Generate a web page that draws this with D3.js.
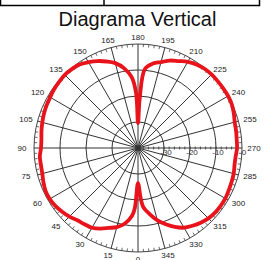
<!DOCTYPE html>
<html>
<head>
<meta charset="utf-8">
<script src="https://cdn.jsdelivr.net/npm/d3@7"></script>
<style>
  body { margin: 0; background: #fff; }
  svg { display: block; }
</style>
</head>
<body>
<div id="chart"></div>
<script>
// pattern data: angle in degrees (0 at bottom, clockwise) and gain in dB
const patternAngles = [0, 3, 5, 10, 15, 20, 25, 30, 35, 40, 45, 50, 55, 60, 65, 70, 75, 80, 85, 90,
  95, 100, 105, 110, 115, 120, 125, 130, 135, 140, 145, 150, 155, 160, 165, 170, 175, 178, 180,
  182, 185, 190, 195, 200, 205, 210, 215, 220, 225, 230, 235, 240, 245, 250, 255, 260, 265, 270,
  275, 280, 285, 290, 295, 300, 305, 310, 315, 320, 325, 330, 335, 340, 345, 350, 355, 357];
const patternGains = [-26.5, -16.9, -13.8, -10.4, -8.5, -7.3, -5.8, -4.6, -4.2, -3.7, -2.7, -1.9, -1.2, -0.8, -0.8, -1.3, -1.9, -2.1, -2.1, -2.7,
  -2.7, -2.3, -1.9, -1.5, -1.2, -1.0, -0.6, -0.4, -0.2, -0.4, -0.8, -1.9, -3.1, -4.6, -6.2, -8.8, -12.7, -18.8, -30.4,
  -20.8, -9.5, -7.0, -5.8, -4.2, -3.1, -1.7, -0.8, -0.2, 0, 0, 0, 0, -0.2, -0.8, -1.5, -1.7, -1.9, -1.9,
  -2.3, -2.3, -1.9, -1.7, -1.5, -1.2, -1.2, -1.3, -1.7, -2.5, -3.5, -4.6, -6.5, -8.8, -11.2, -14.2, -17.3, -20.8];

const ringValues = [-30, -20, -10, 0];
const ringLabels = ["-30", "-20", "-10", "0"];
const spokeAngles = d3.range(0, 360, 15);

const width = 270, height = 260;
const cx = 138, cy = 148, R = 104;

const svg = d3.select("#chart").append("svg")
  .attr("width", width)
  .attr("height", height);

// top table borders
svg.append("path")
  .attr("d", "M0.5,0 V5.5 H259.5 V0 M104,0 V5.5")
  .attr("fill", "none")
  .attr("stroke", "#000")
  .attr("stroke-width", 1.5);

// title
svg.append("text")
  .attr("x", 137.5)
  .attr("y", 26)
  .attr("text-anchor", "middle")
  .attr("font-family", "Liberation Sans, Arial, sans-serif")
  .attr("font-size", 20)
  .attr("fill", "#111")
  .text("Diagrama Vertical");

const r = d3.scaleLinear().domain([-40, 0]).range([0, R]);

const g = svg.append("g")
  .attr("transform", "translate(" + cx + "," + cy + ")");

// screen position for a pattern angle (0 = down, clockwise)
const px = (a, rad) => -rad * Math.sin(a * Math.PI / 180);
const py = (a, rad) => rad * Math.cos(a * Math.PI / 180);

// spokes
g.selectAll(".spoke")
  .data(spokeAngles)
  .enter()
  .append("line")
  .attr("x1", 0).attr("y1", 0)
  .attr("x2", d => px(d, R))
  .attr("y2", d => py(d, R))
  .attr("stroke", "#333")
  .attr("stroke-width", 1);

// rings
g.selectAll(".ring")
  .data(ringValues)
  .enter()
  .append("circle")
  .attr("r", d => r(d))
  .attr("fill", "none")
  .attr("stroke", d => d === 0 ? "#444" : "#333")
  .attr("stroke-width", 1);

// minor ticks on the outer circle
g.selectAll(".tick")
  .data(d3.range(0, 360, 3).filter(a => a % 15 !== 0))
  .enter()
  .append("line")
  .attr("x1", d => px(d, R))
  .attr("y1", d => py(d, R))
  .attr("x2", d => px(d, R - 3))
  .attr("y2", d => py(d, R - 3))
  .attr("stroke", "#444")
  .attr("stroke-width", 0.8);

// minor ticks on the dB axis (right)
g.selectAll(".dbtick")
  .data(d3.range(-38, 0, 2))
  .enter()
  .append("line")
  .attr("x1", d => r(d)).attr("x2", d => r(d))
  .attr("y1", -1.5).attr("y2", 1.5)
  .attr("stroke", "#333")
  .attr("stroke-width", 0.8);

// angle labels
g.selectAll(".alabel")
  .data(spokeAngles)
  .enter()
  .append("text")
  .attr("x", d => px(d, R + 12))
  .attr("y", d => py(d, R + 7))
  .attr("text-anchor", "middle")
  .attr("dominant-baseline", "central")
  .attr("font-family", "Liberation Sans, Arial, sans-serif")
  .attr("font-size", 8)
  .attr("fill", "#222")
  .text(d => d);

// dB labels
g.selectAll(".rlabel")
  .data(ringValues)
  .enter()
  .append("text")
  .attr("x", d => r(d) + 2)
  .attr("y", 7)
  .attr("text-anchor", "middle")
  .attr("font-family", "Liberation Sans, Arial, sans-serif")
  .attr("font-size", 8)
  .attr("fill", "#333")
  .text((d, i) => ringLabels[i]);

// pattern
const points = patternAngles.map((a, i) => ({ a: a, g: patternGains[i] }));
const line = d3.lineRadial()
  .angle(d => (d.a + 180) * Math.PI / 180)
  .radius(d => r(d.g))
  .curve(d3.curveCatmullRomClosed.alpha(0.5));

g.append("path")
  .datum(points)
  .attr("d", line)
  .attr("fill", "none")
  .attr("stroke", "#e8131b")
  .attr("stroke-width", 3.8)
  .attr("stroke-linejoin", "round");
</script>
</body>
</html>
